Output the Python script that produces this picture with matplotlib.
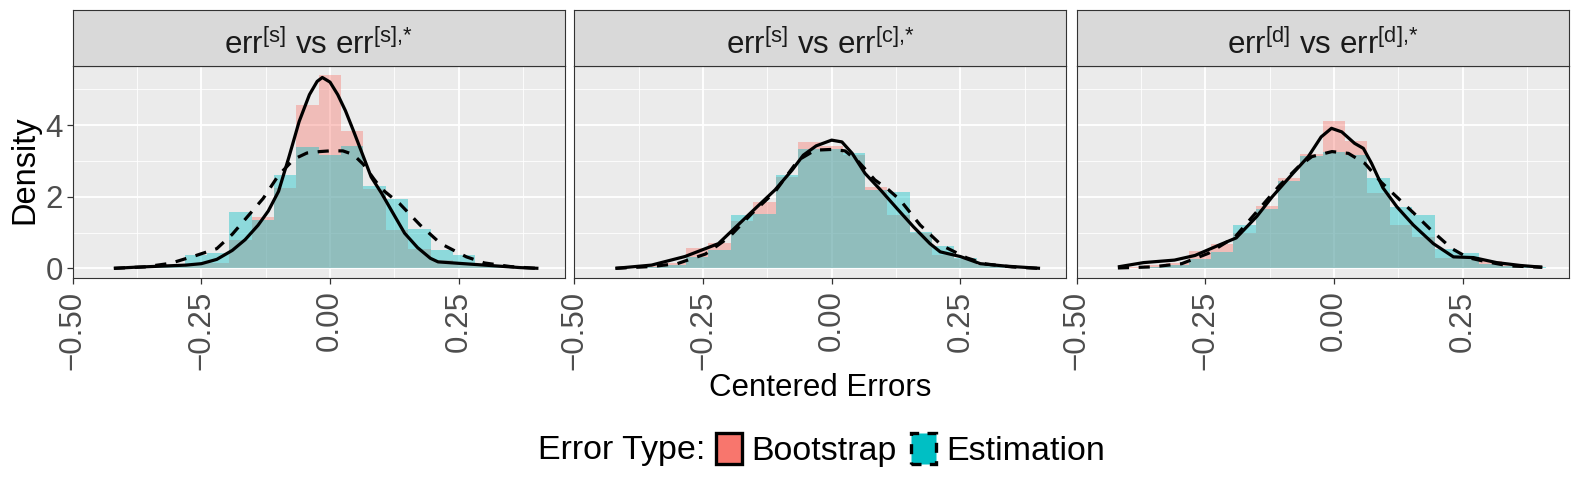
import numpy as np
import matplotlib
matplotlib.use('Agg')
import matplotlib.pyplot as plt
from matplotlib.patches import Patch

plt.rcParams['font.family'] = ['Liberation Sans', 'DejaVu Sans']
plt.rcParams['mathtext.fontset'] = 'custom'
plt.rcParams['mathtext.rm'] = 'Liberation Sans'
plt.rcParams['mathtext.it'] = 'Liberation Sans:italic'

# histogram bins (shared by the three facets)
bin_start = -0.4565
bin_width = 0.04345
n_bins = 20

panel_titles = [r'err$^{\text{[s]}}$ vs err$^{\text{[s],*}}$',
                r'err$^{\text{[s]}}$ vs err$^{\text{[c],*}}$',
                r'err$^{\text{[d]}}$ vs err$^{\text{[d],*}}$']

# bar heights (density) for each facet
boot_hist = [
    [0.0, 0.02, 0.03, 0.05, 0.12, 0.15, 0.79, 1.44, 2.25, 4.56, 5.39, 3.83, 2.22, 1.07, 0.55, 0.22, 0.16, 0.08, 0.04, 0.02],
    [0.0, 0.02, 0.07, 0.16, 0.57, 0.70, 1.32, 1.84, 2.54, 3.53, 3.42, 3.16, 2.28, 1.49, 0.98, 0.37, 0.25, 0.10, 0.03, 0.02],
    [0.0, 0.04, 0.08, 0.16, 0.48, 0.67, 1.00, 1.73, 2.51, 3.19, 4.12, 3.55, 2.09, 1.21, 0.88, 0.29, 0.31, 0.20, 0.08, 0.02],
]
est_hist = [
    [0.02, 0.0, 0.03, 0.07, 0.38, 0.42, 1.56, 1.35, 2.62, 3.40, 3.16, 3.42, 2.30, 1.93, 1.09, 0.52, 0.36, 0.07, 0.03, 0.0],
    [0.02, 0.01, 0.03, 0.08, 0.32, 0.50, 1.49, 1.53, 2.60, 3.32, 3.32, 3.21, 2.19, 2.13, 1.02, 0.63, 0.28, 0.10, 0.03, 0.01],
    [0.02, 0.01, 0.04, 0.09, 0.27, 0.45, 1.21, 1.67, 2.45, 3.13, 3.26, 3.16, 2.51, 1.72, 1.49, 0.53, 0.43, 0.12, 0.07, 0.04],
]

# density curves
boot_dens_x = [
    [-0.42, -0.38, -0.33, -0.28, -0.25, -0.22, -0.19, -0.165, -0.14, -0.12, -0.10, -0.08, -0.06, -0.04, -0.025,
     -0.015, 0.0, 0.015, 0.03, 0.045, 0.06, 0.08, 0.10, 0.12, 0.145, 0.17, 0.195, 0.21, 0.26, 0.32, 0.37, 0.405],
    [-0.42, -0.35, -0.285, -0.22, -0.155, -0.11, -0.077, -0.055, -0.03, 0.0, 0.02, 0.04, 0.065, 0.095, 0.127,
     0.159, 0.191, 0.211, 0.25, 0.289, 0.34, 0.405],
    [-0.42, -0.37, -0.31, -0.27, -0.225, -0.19, -0.15, -0.12, -0.08, -0.05, -0.025, -0.005, 0.015, 0.04, 0.057,
     0.073, 0.095, 0.122, 0.154, 0.193, 0.232, 0.271, 0.316, 0.362, 0.405],
]
boot_dens_y = [
    [0.0, 0.03, 0.06, 0.09, 0.13, 0.25, 0.50, 0.80, 1.20, 1.60, 2.15, 3.10, 4.10, 4.85, 5.22,
     5.33, 5.20, 4.85, 4.40, 3.86, 3.30, 2.55, 2.10, 1.60, 0.98, 0.58, 0.28, 0.18, 0.13, 0.07, 0.02, 0.0],
    [0.0, 0.09, 0.33, 0.69, 1.58, 2.19, 2.74, 3.16, 3.42, 3.58, 3.53, 3.21, 2.65, 2.19, 1.67,
     1.16, 0.69, 0.46, 0.33, 0.13, 0.06, 0.0],
    [0.04, 0.16, 0.23, 0.36, 0.64, 0.85, 1.45, 2.0, 2.65, 3.12, 3.67, 3.91, 3.81, 3.49, 3.35,
     2.93, 2.25, 1.72, 1.21, 0.69, 0.32, 0.30, 0.16, 0.08, 0.03],
]
est_dens_x = [
    [-0.42, -0.36, -0.31, -0.26, -0.22, -0.19, -0.16, -0.13, -0.10, -0.07, -0.045, -0.02, 0.0, 0.025, 0.045,
     0.065, 0.085, 0.10, 0.135, 0.175, 0.215, 0.265, 0.30, 0.35, 0.40],
    [-0.42, -0.35, -0.30, -0.245, -0.20, -0.155, -0.11, -0.065, -0.032, 0.0, 0.026, 0.052, 0.084, 0.11, 0.133,
     0.172, 0.214, 0.263, 0.30, 0.35, 0.40],
    [-0.42, -0.354, -0.296, -0.244, -0.192, -0.155, -0.108, -0.069, -0.043, -0.004, 0.028, 0.06, 0.092, 0.125,
     0.158, 0.19, 0.229, 0.26, 0.294, 0.339, 0.404],
]
est_dens_y = [
    [0.0, 0.04, 0.14, 0.36, 0.55, 0.95, 1.45, 1.95, 2.60, 3.05, 3.22, 3.26, 3.28, 3.28, 3.18,
     2.90, 2.50, 2.22, 1.81, 1.21, 0.69, 0.32, 0.15, 0.05, 0.0],
    [0.0, 0.05, 0.13, 0.40, 0.86, 1.53, 2.14, 3.02, 3.30, 3.32, 3.28, 2.98, 2.47, 2.20, 1.91,
     1.21, 0.64, 0.29, 0.12, 0.04, 0.0],
    [0.01, 0.04, 0.13, 0.42, 0.88, 1.50, 2.28, 2.84, 3.12, 3.26, 3.21, 2.93, 2.40, 1.95,
     1.50, 1.05, 0.55, 0.30, 0.19, 0.07, 0.03],
]

x_ticks = [-0.5, -0.25, 0.0, 0.25]
x_ticklabels = ['\u22120.50', '\u22120.25', '0.00', '0.25']
y_ticks = [0, 2, 4]

boot_color = '#F8766D'
est_color = '#00BFC4'

W, H = 1578, 486
fig = plt.figure(figsize=(W / 100, H / 100), dpi=100)


def box(x0, y0, x1, y1):
    return [x0 / W, 1 - y1 / H, (x1 - x0) / W, (y1 - y0) / H]


lefts = [72.7, 574.3, 1076.7]
pw = 492
edges = bin_start + bin_width * np.arange(n_bins)

for i in range(3):
    ax = fig.add_axes(box(lefts[i], 66, lefts[i] + pw, 278))
    ax.set_facecolor('#EBEBEB')
    ax.bar(edges, boot_hist[i], width=bin_width, align='edge', color=boot_color, alpha=0.4, linewidth=0)
    ax.bar(edges, est_hist[i], width=bin_width, align='edge', color=est_color, alpha=0.4, linewidth=0)
    ax.plot(boot_dens_x[i], boot_dens_y[i], color='black', lw=2.3, solid_capstyle='butt')
    ax.plot(est_dens_x[i], est_dens_y[i], color='black', lw=2.3, ls=(0, (3.5, 3)))

    ax.set_xlim(-0.5, 0.456)
    ax.set_ylim(-0.27, 5.65)
    ax.set_xticks(x_ticks)
    ax.set_xticks([-0.375, -0.125, 0.125, 0.375], minor=True)
    ax.set_yticks(y_ticks)
    ax.set_yticks([1, 3, 5], minor=True)
    ax.grid(which='major', color='white', lw=1.3)
    ax.grid(which='minor', color='white', lw=0.6)
    ax.set_axisbelow(True)
    ax.set_xticklabels(x_ticklabels, rotation=90, fontsize=22.5, color='#4D4D4D')
    ax.tick_params(axis='x', which='major', length=4, width=0.9, color='#333333', pad=5)
    ax.tick_params(axis='y', which='major', length=4, width=0.9, color='#333333', pad=3)
    ax.tick_params(which='minor', length=0)
    if i == 0:
        ax.set_yticklabels([str(t) for t in y_ticks], fontsize=22.5, color='#4D4D4D')
    else:
        ax.tick_params(axis='y', which='both', left=False, labelleft=False)
    for s in ax.spines.values():
        s.set_color('#333333')
        s.set_linewidth(0.8)

    # facet strip
    st = fig.add_axes(box(lefts[i], 10, lefts[i] + pw, 66))
    st.set_facecolor('#D9D9D9')
    st.set_xticks([])
    st.set_yticks([])
    for s in st.spines.values():
        s.set_color('#333333')
        s.set_linewidth(0.8)
    st.text(0.5, 0.38, panel_titles[i], ha='center', va='center', fontsize=22.5, color='#1A1A1A',
            transform=st.transAxes)

fig.text(25 / W, 1 - 170 / H, 'Density', rotation=90, ha='center', va='center', fontsize=23.5)
fig.text(820 / W, 1 - 388 / H, 'Centered Errors', ha='center', va='center', fontsize=22.5)

# legend
fig.text(538 / W, 1 - 450 / H, 'Error Type:', ha='left', va='center', fontsize=24.5)
handles = [Patch(facecolor=boot_color, edgecolor='black', linewidth=2.4, linestyle='-'),
           Patch(facecolor=est_color, edgecolor='black', linewidth=2.4, linestyle=(0, (3, 2.5)))]
fig.legend(handles, ['Bootstrap', 'Estimation'], loc='center left', bbox_to_anchor=(716 / W, 1 - 450 / H),
           ncol=2, frameon=False, fontsize=24.5, handlelength=0.75, handleheight=1.0,
           handletextpad=0.3, columnspacing=0.4, borderpad=0, borderaxespad=0)

fig.savefig('out.png', dpi=100)
